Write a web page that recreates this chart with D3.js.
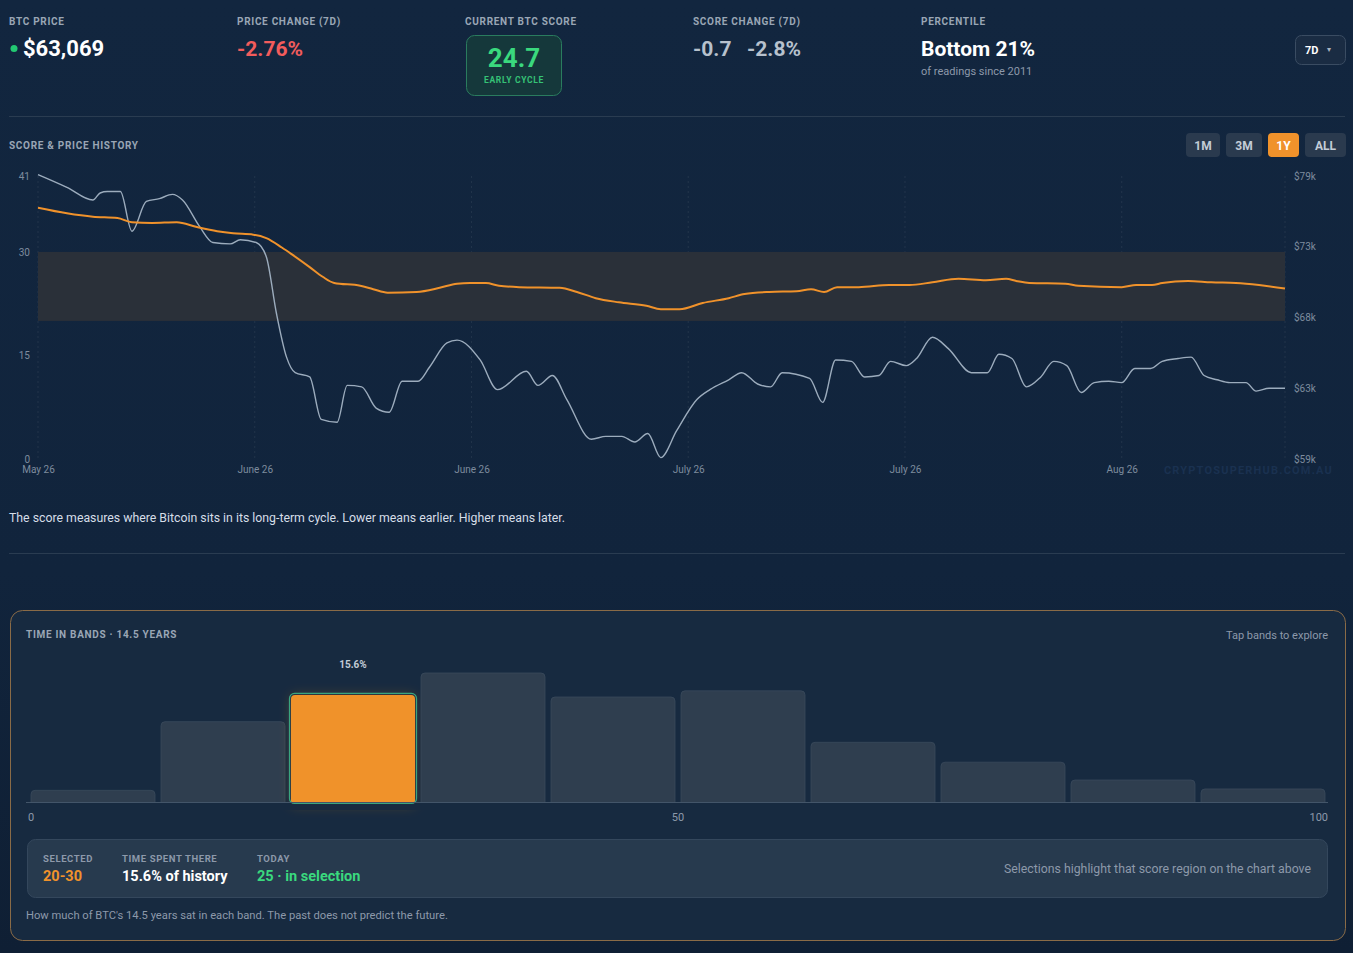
<!DOCTYPE html>
<html>
<head>
<meta charset="utf-8">
<script src="https://cdn.jsdelivr.net/npm/d3@7"></script>
<style>
  html, body { margin: 0; padding: 0; background: #11243c; }
  svg { display: block; font-family: Roboto, "Liberation Sans", sans-serif; }
</style>
</head>
<body>
<svg id="chart"></svg>
<script>
const W = 1353, H = 953;

// price line (in $k), day offsets from the first x tick
const priceDays = [0, 2.0, 3.8, 4.3, 4.8, 5.7, 6.5, 7.5, 8.4, 9.3, 10.0, 11.2, 12.1, 13.3, 14.0, 15.1, 15.8, 16.5, 17.2, 17.8,
  18.8, 19.6, 20.7, 21.4, 22.4, 23.4, 24.3, 25.2, 26.3, 27.1, 28.3, 29.0, 30.6, 31.8, 33.8, 34.6, 35.6, 36.6, 38.3, 39.3,
  40.4, 41.3, 42.2, 43.1, 44.2, 45.6, 46.5, 47.8, 48.7, 49.8, 50.7, 51.5, 53.4, 54.3, 55.2, 56.3, 57.2, 58.2, 59.0, 60.1,
  60.8, 61.9, 63.0, 64.6, 65.7, 66.5, 67.4, 68.4, 69.4, 70.3, 71.2, 72.2, 73.1, 74.1, 75.0, 75.9, 77.0, 77.8, 78.9, 79.8,
  80.7, 81.6, 82.5, 83.6, 84.3, 85.2, 86.3];
const priceVals = [79.1, 78.2, 77.3, 77.8, 77.9, 77.9, 75.1, 77.2, 77.4, 77.7, 77.3, 75.4, 74.3, 74.2, 74.5, 74.3, 73.3, 69.3, 66.2, 65.1,
  64.8, 61.8, 61.6, 64.2, 64.1, 62.6, 62.3, 64.5, 64.5, 65.5, 67.2, 67.4, 66.0, 63.9, 65.2, 64.2, 64.9, 63.2, 60.4, 60.6,
  60.6, 60.2, 60.8, 59.1, 61.0, 63.2, 63.9, 64.6, 65.1, 64.3, 64.1, 65.1, 64.7, 63.0, 66.0, 65.9, 64.8, 64.9, 65.9, 65.6,
  66.1, 67.6, 66.8, 65.1, 65.1, 66.4, 66.1, 64.1, 64.8, 65.9, 65.6, 63.7, 64.4, 64.5, 64.4, 65.4, 65.4, 65.9, 66.1, 66.2,
  64.9, 64.6, 64.4, 64.4, 63.8, 64.0, 64.0];

// cycle score line
const scoreDays = [0, 2.0, 3.8, 5.5, 6.5, 7.9, 9.6, 11.0, 12.4, 13.5, 14.9, 15.8, 16.9, 17.6, 18.8, 19.7, 20.5, 22.3, 23.2, 24.2,
  26.2, 27.8, 29.0, 29.9, 31.0, 31.9, 33.3, 36.1, 37.3, 38.6, 40.2, 42.1, 43.1, 44.4, 46.0, 47.8, 48.9, 50.6, 52.5, 53.5,
  54.4, 55.3, 56.8, 58.9, 60.3, 61.9, 63.7, 65.6, 67.0, 67.7, 68.6, 71.1, 72.0, 75.0, 76.0, 77.1, 77.8, 79.6, 81.2, 82.9,
  84.5, 86.3];
const scoreVals = [36.4, 35.6, 35.1, 34.9, 34.3, 34.2, 34.3, 33.6, 33.0, 32.7, 32.5, 32.0, 30.6, 29.6, 27.8, 26.4, 25.5, 25.1, 24.6, 24.1,
  24.2, 24.8, 25.4, 25.5, 25.5, 25.1, 24.9, 24.8, 24.2, 23.3, 22.7, 22.2, 21.7, 21.7, 22.6, 23.3, 23.9, 24.2, 24.3, 24.6,
  24.2, 24.9, 24.9, 25.2, 25.2, 25.6, 26.1, 25.9, 26.1, 25.8, 25.5, 25.4, 25.1, 24.9, 25.2, 25.2, 25.5, 25.8, 25.6, 25.5,
  25.2, 24.7];

const xTickDays = [0, 15, 30, 45, 60, 75];
const xTickLabels = ["May 26", "June 26", "June 26", "July 26", "July 26", "Aug 26"];
const scoreTicks = [0, 15, 30, 41];
const priceTickLabels = ["$59k", "$63k", "$68k", "$73k", "$79k"];
const selectedBand = [20, 30];

// time in bands histogram
const bandStarts = [0, 10, 20, 30, 40, 50, 60, 70, 80, 90];
const bandPct = [1.7, 11.7, 15.6, 18.8, 15.3, 16.2, 8.7, 5.8, 3.2, 1.9];
const bandAxisTicks = [0, 50, 100];

const rangeButtons = ["1M", "3M", "1Y", "ALL"];

const labelColor = "#9aa6b5";
const axisColor = "#7e8c9e";
const orange = "#f0922b";
const green = "#3ad97e";

const svg = d3.select("#chart").attr("width", W).attr("height", H);

const defs = svg.append("defs");
const bg = defs.append("linearGradient").attr("id", "bg").attr("x1", 0).attr("y1", 0).attr("x2", 0).attr("y2", 1);
bg.append("stop").attr("offset", "0%").attr("stop-color", "#12263f");
bg.append("stop").attr("offset", "60%").attr("stop-color", "#11243c");
bg.append("stop").attr("offset", "100%").attr("stop-color", "#0f1f34");
const glow = defs.append("filter").attr("id", "glow").attr("x", "-30%").attr("y", "-30%").attr("width", "160%").attr("height", "160%");
glow.append("feDropShadow").attr("dx", 0).attr("dy", 0).attr("stdDeviation", 6)
    .attr("flood-color", orange).attr("flood-opacity", 0.25);

svg.append("rect").attr("width", W).attr("height", H).attr("fill", "url(#bg)");

// ---------- header stats ----------
function smallLabel(x, y, text) {
  return svg.append("text").attr("x", x).attr("y", y).text(text)
    .attr("fill", labelColor).attr("font-size", 10).attr("font-weight", 700).attr("letter-spacing", 0.7);
}
function bigValue(x, y, text, color) {
  return svg.append("text").attr("x", x).attr("y", y).text(text)
    .attr("fill", color).attr("font-size", 21).attr("font-weight", 700);
}

smallLabel(9, 25, "BTC PRICE");
svg.append("circle").attr("cx", 14).attr("cy", 48.5).attr("r", 3.5).attr("fill", "#22c872");
bigValue(23, 56, "$63,069", "#ffffff").attr("font-size", 22);

smallLabel(237, 25, "PRICE CHANGE (7D)");
bigValue(237, 56, "-2.76%", "#f25c5c");

smallLabel(465, 25, "CURRENT BTC SCORE");
svg.append("rect").attr("x", 466.5).attr("y", 35.5).attr("width", 95).attr("height", 60).attr("rx", 8)
  .attr("fill", "#15383b").attr("stroke", "#2a7c5e").attr("stroke-width", 1);
svg.append("text").attr("x", 514).attr("y", 67).attr("text-anchor", "middle").text("24.7")
  .attr("fill", green).attr("font-size", 26).attr("font-weight", 700);
svg.append("text").attr("x", 514).attr("y", 82.5).attr("text-anchor", "middle").text("EARLY CYCLE")
  .attr("fill", "#35c276").attr("font-size", 8.5).attr("font-weight", 700).attr("letter-spacing", 0.7);

smallLabel(693, 25, "SCORE CHANGE (7D)");
bigValue(693, 56, "-0.7", "#b7c1cd");
bigValue(747, 56, "-2.8%", "#b7c1cd");

smallLabel(921, 25, "PERCENTILE");
bigValue(921, 56, "Bottom 21%", "#ffffff");
svg.append("text").attr("x", 921).attr("y", 75).text("of readings since 2011")
  .attr("fill", "#8d99aa").attr("font-size", 11);

svg.append("rect").attr("x", 1295.5).attr("y", 35.5).attr("width", 50).attr("height", 29).attr("rx", 6)
  .attr("fill", "#1a2c43").attr("stroke", "#3a4c62");
svg.append("text").attr("x", 1305).attr("y", 54).text("7D")
  .attr("fill", "#ffffff").attr("font-size", 11).attr("font-weight", 700);
svg.append("text").attr("x", 1327).attr("y", 52).text("▾")
  .attr("fill", "#aab4c0").attr("font-size", 8);

svg.append("line").attr("x1", 9).attr("x2", 1345).attr("y1", 116.5).attr("y2", 116.5).attr("stroke", "#2a3c51");

// ---------- score & price history ----------
smallLabel(9, 149, "SCORE & PRICE HISTORY");

let bx = 1186;
const btnW = {"1M": 34, "3M": 36, "1Y": 31, "ALL": 41};
rangeButtons.forEach(b => {
  const active = b === "1Y";
  svg.append("rect").attr("x", bx).attr("y", 133).attr("width", btnW[b]).attr("height", 24).attr("rx", 4)
    .attr("fill", active ? orange : "#2a3a4e");
  svg.append("text").attr("x", bx + btnW[b] / 2).attr("y", 149.5).attr("text-anchor", "middle").text(b)
    .attr("fill", active ? "#ffffff" : "#c3ccd7").attr("font-size", 12).attr("font-weight", 700);
  bx += btnW[b] + 6;
});

const plot = {left: 38, right: 1285, top: 176, bottom: 459};
const x = d3.scaleLinear().domain([0, d3.max(priceDays)]).range([plot.left, plot.right]);
const yScore = d3.scaleLinear().domain([0, 41]).range([plot.bottom, plot.top]);
const yPrice = d3.scaleLinear().domain([59, 79]).range([plot.bottom, plot.top]);

const g = svg.append("g");

// dashed vertical grid
g.selectAll("line.vgrid").data(xTickDays.concat([d3.max(priceDays)])).join("line")
  .attr("class", "vgrid")
  .attr("x1", d => x(d)).attr("x2", d => x(d))
  .attr("y1", plot.top).attr("y2", plot.bottom)
  .attr("stroke", "#ffffff").attr("stroke-opacity", 0.07).attr("stroke-dasharray", "2,3");

// selected band (score 20-30)
g.append("rect")
  .attr("x", plot.left).attr("width", plot.right - plot.left)
  .attr("y", yScore(selectedBand[1])).attr("height", yScore(selectedBand[0]) - yScore(selectedBand[1]))
  .attr("fill", "#2a3039");

const priceLine = d3.line().x((d, i) => x(priceDays[i])).y(d => yPrice(d)).curve(d3.curveMonotoneX);
const scoreLine = d3.line().x((d, i) => x(scoreDays[i])).y(d => yScore(d)).curve(d3.curveMonotoneX);

g.append("path").datum(priceVals).attr("d", priceLine)
  .attr("fill", "none").attr("stroke", "#9cacbd").attr("stroke-width", 1.4);
g.append("path").datum(scoreVals).attr("d", scoreLine)
  .attr("fill", "none").attr("stroke", orange).attr("stroke-width", 2);

// axes
const leftAxis = g.append("g").attr("transform", `translate(${plot.left},0)`)
  .call(d3.axisLeft(yScore).tickValues(scoreTicks).tickSize(0).tickPadding(8));
const priceTickVals = d3.range(priceTickLabels.length).map(i => 59 + i * 20 / (priceTickLabels.length - 1));
const rightAxis = g.append("g").attr("transform", `translate(${plot.right},0)`)
  .call(d3.axisRight(yPrice).tickValues(priceTickVals).tickFormat((d, i) => priceTickLabels[i]).tickSize(0).tickPadding(9));
const bottomAxis = g.append("g").attr("transform", `translate(0,${plot.bottom})`)
  .call(d3.axisBottom(x).tickValues(xTickDays).tickFormat((d, i) => xTickLabels[i]).tickSize(0).tickPadding(7));
[leftAxis, rightAxis, bottomAxis].forEach(a => {
  a.select(".domain").remove();
  a.selectAll("text").attr("fill", axisColor).attr("font-size", 10)
    .attr("font-family", "Roboto, 'Liberation Sans', sans-serif");
});

svg.append("text").attr("x", 1333).attr("y", 474).attr("text-anchor", "end").text("CRYPTOSUPERHUB.COM.AU")
  .attr("fill", "#1a3150").attr("font-size", 11).attr("font-weight", 700).attr("letter-spacing", 1.2);

svg.append("text").attr("x", 9).attr("y", 522)
  .text("The score measures where Bitcoin sits in its long-term cycle. Lower means earlier. Higher means later.")
  .attr("fill", "#d6dee8").attr("font-size", 12.3);

svg.append("line").attr("x1", 9).attr("x2", 1345).attr("y1", 553.5).attr("y2", 553.5).attr("stroke", "#2a3c51");

// ---------- time in bands panel ----------
svg.append("rect").attr("x", 10.5).attr("y", 610.5).attr("width", 1335).attr("height", 330).attr("rx", 12)
  .attr("fill", "#172a40").attr("stroke", "#8a6b47").attr("stroke-width", 1);

smallLabel(26, 638, "TIME IN BANDS · 14.5 YEARS");
svg.append("text").attr("x", 1328).attr("y", 639).attr("text-anchor", "end").text("Tap bands to explore")
  .attr("fill", "#8d99aa").attr("font-size", 11);

const xb = d3.scaleLinear().domain([0, 100]).range([28, 1328]);
const yb = d3.scaleLinear().domain([0, d3.max(bandPct)]).range([802, 673]);
const bandGap = 3;

const bars = svg.append("g");
bars.selectAll("rect.band").data(bandStarts).join("rect")
  .attr("class", "band")
  .attr("x", d => xb(d) + bandGap)
  .attr("width", d => xb(d + 10) - xb(d) - 2 * bandGap)
  .attr("y", (d, i) => yb(bandPct[i]))
  .attr("height", (d, i) => yb(0) - yb(bandPct[i]) + 4)
  .attr("rx", 4)
  .attr("fill", d => d === selectedBand[0] ? orange : "#2f3e4f")
  .attr("stroke", d => d === selectedBand[0] ? "none" : "#3a4a5c")
  .attr("stroke-width", 0.8)
  .attr("filter", d => d === selectedBand[0] ? "url(#glow)" : null);

// cover bottom rounding below baseline
svg.append("rect").attr("x", 20).attr("y", 802).attr("width", 1315).attr("height", 8).attr("fill", "#172a40");

// selected outline
const si = bandStarts.indexOf(selectedBand[0]);
svg.append("rect")
  .attr("x", xb(selectedBand[0]) + bandGap - 1.5)
  .attr("width", xb(selectedBand[1]) - xb(selectedBand[0]) - 2 * bandGap + 3)
  .attr("y", yb(bandPct[si]) - 1.5)
  .attr("height", yb(0) - yb(bandPct[si]) + 3)
  .attr("rx", 5)
  .attr("fill", "none").attr("stroke", "#3aa57f").attr("stroke-width", 1.2);

svg.append("text")
  .attr("x", (xb(selectedBand[0]) + xb(selectedBand[1])) / 2).attr("y", 668)
  .attr("text-anchor", "middle").text(bandPct[si].toFixed(1) + "%")
  .attr("fill", "#c2cbd6").attr("font-size", 10).attr("font-weight", 700);

svg.append("line").attr("x1", 26).attr("x2", 1328).attr("y1", 802.5).attr("y2", 802.5)
  .attr("stroke", "#435569").attr("stroke-width", 1);

svg.append("g").selectAll("text").data(bandAxisTicks).join("text")
  .attr("x", d => xb(d))
  .attr("y", 821)
  .attr("text-anchor", d => d === 0 ? "start" : d === 100 ? "end" : "middle")
  .text(d => d)
  .attr("fill", "#8d99aa").attr("font-size", 11);

// selection info box
svg.append("rect").attr("x", 27.5).attr("y", 839.5).attr("width", 1300).attr("height", 58).attr("rx", 8)
  .attr("fill", "#273a4e").attr("stroke", "#34475c");

const info = [
  {x: 43, label: "SELECTED", value: `${selectedBand[0]}-${selectedBand[1]}`, color: orange},
  {x: 122, label: "TIME SPENT THERE", value: `${bandPct[si].toFixed(1)}% of history`, color: "#ffffff"},
  {x: 257, label: "TODAY", value: "25 · in selection", color: green}
];
info.forEach(d => {
  svg.append("text").attr("x", d.x).attr("y", 862).text(d.label)
    .attr("fill", "#8d99aa").attr("font-size", 9.5).attr("font-weight", 700).attr("letter-spacing", 0.6);
  svg.append("text").attr("x", d.x).attr("y", 881).text(d.value)
    .attr("fill", d.color).attr("font-size", 14.5).attr("font-weight", 700);
});
svg.append("text").attr("x", 1311).attr("y", 873).attr("text-anchor", "end")
  .text("Selections highlight that score region on the chart above")
  .attr("fill", "#8d99aa").attr("font-size", 12.3);

svg.append("text").attr("x", 26).attr("y", 919)
  .text("How much of BTC's 14.5 years sat in each band. The past does not predict the future.")
  .attr("fill", "#8d99aa").attr("font-size", 11.2);
</script>
</body>
</html>
